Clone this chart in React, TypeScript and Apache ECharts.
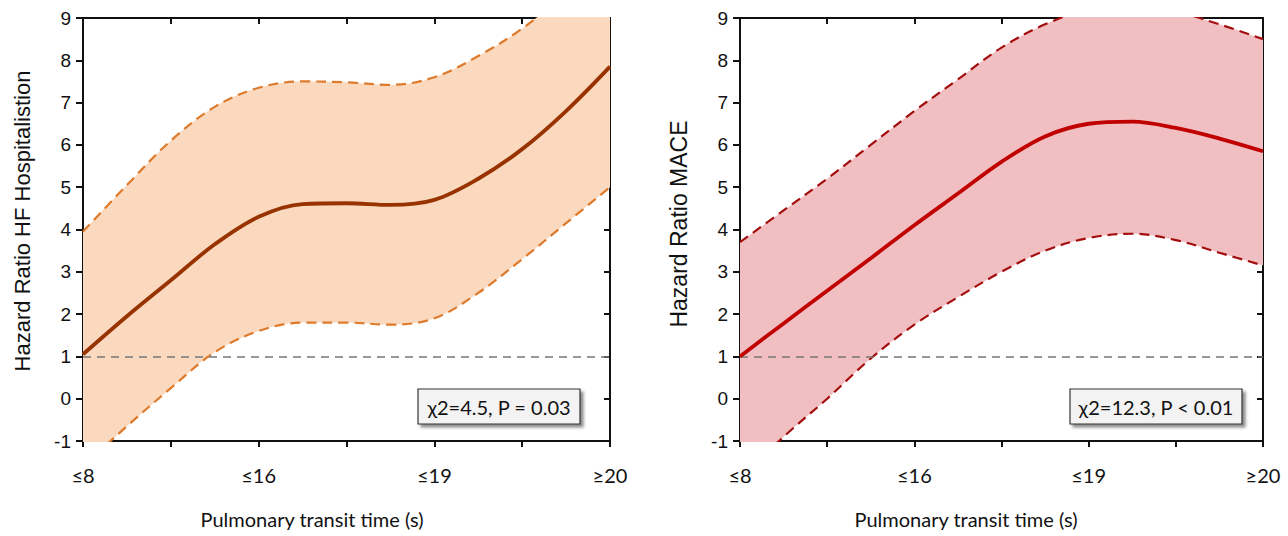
import React, { useEffect, useRef } from "react";
import * as echarts from "echarts";

// x positions (0 = ≤8, 2 = ≤16, 4 = ≤19, 6 = ≥20), sampled every half step
const xs = ["0", "0.5", "1", "1.5", "2", "2.5", "3", "3.5", "4", "4.5", "5", "5.5", "6"];
const xTickLabels = ["≤8", "≤16", "≤19", "≥20"];
const xTickPositions = ["0", "2", "4", "6"];

// Left panel: HF hospitalisation
const hfMean = [1.05, 1.95, 2.8, 3.65, 4.3, 4.6, 4.62, 4.58, 4.7, 5.2, 5.9, 6.8, 7.85];
const hfUpper = [3.95, 5.05, 6.1, 6.9, 7.35, 7.5, 7.48, 7.42, 7.6, 8.1, 8.75, 9.6, 10.6];
const hfLower = [-1.6, -0.65, 0.25, 1.1, 1.6, 1.8, 1.8, 1.75, 1.9, 2.5, 3.3, 4.15, 5.0];

// Right panel: MACE
const maceMean = [1.0, 1.78, 2.55, 3.32, 4.1, 4.85, 5.6, 6.2, 6.5, 6.55, 6.4, 6.15, 5.85];
const maceUpper = [3.7, 4.45, 5.2, 6.0, 6.8, 7.55, 8.3, 8.85, 9.2, 9.3, 9.15, 8.85, 8.5];
const maceLower = [-1.9, -0.9, 0.0, 0.95, 1.75, 2.4, 3.0, 3.5, 3.8, 3.9, 3.75, 3.45, 3.15];

const refValue = 1;
const leftTitle = "Hazard Ratio HF Hospitalistion";
const rightTitle = "Hazard Ratio MACE";
const xTitle = "Pulmonary transit time (s)";
const leftStat = "χ2=4.5, P = 0.03";
const rightStat = "χ2=12.3, P < 0.01";

const diff = (hi: number[], lo: number[]) => hi.map((v, i) => v - lo[i]);

const labelFont = "Lato, 'Open Sans', sans-serif";
const arial = "'Liberation Sans', Arial, sans-serif";

export default function App() {
  const ref = useRef<HTMLDivElement>(null);
  useEffect(() => {
    if (!ref.current) return;
    const chart = echarts.init(ref.current, null, { renderer: "svg" });

    const grids = [
      { left: 83, right: 678, top: 18, bottom: 95 },
      { left: 740, right: 25, top: 18, bottom: 95 },
    ];

    const axisLine = { show: true, onZero: false, lineStyle: { color: "#111", width: 2 } };
    const tickStyle = { color: "#111", width: 2 };

    const xAxes: any[] = [];
    const yAxes: any[] = [];
    grids.forEach((_, g) => {
      xAxes.push({
        gridIndex: g,
        type: "category",
        data: xs,
        boundaryGap: false,
        position: "bottom",
        axisLine,
        axisTick: { show: true, inside: false, length: 6, interval: 1, lineStyle: tickStyle },
        axisLabel: {
          interval: 3,
          margin: 24,
          fontFamily: labelFont,
          fontSize: 20,
          color: "#111",
          formatter: (v: string) => {
            const idx = xTickPositions.indexOf(v);
            return idx >= 0 ? xTickLabels[idx] : "";
          },
        },
        splitLine: { show: false },
      });
      xAxes.push({
        gridIndex: g,
        type: "category",
        data: xs,
        boundaryGap: false,
        position: "top",
        axisLine,
        axisTick: { show: true, inside: true, length: 6, interval: 1, lineStyle: tickStyle },
        axisLabel: { show: false },
        splitLine: { show: false },
      });
      yAxes.push({
        gridIndex: g,
        type: "value",
        min: -1,
        max: 9,
        interval: 1,
        position: "left",
        axisLine,
        axisTick: { show: true, inside: false, length: 7, lineStyle: tickStyle },
        axisLabel: { margin: 12, fontFamily: arial, fontSize: 19, color: "#111" },
        splitLine: { show: false },
      });
      yAxes.push({
        gridIndex: g,
        type: "value",
        min: -1,
        max: 9,
        interval: 1,
        position: "right",
        axisLine,
        axisTick: { show: true, inside: true, length: 6, lineStyle: tickStyle },
        axisLabel: { show: false },
        splitLine: { show: false },
      });
    });

    const panels = [
      { mean: hfMean, upper: hfUpper, lower: hfLower, fill: "#fad9bf", dash: "#dd7a2c", line: "#983300" },
      { mean: maceMean, upper: maceUpper, lower: maceLower, fill: "#f1bfc2", dash: "#a30d0d", line: "#c10000" },
    ];

    const series: any[] = [];
    panels.forEach((p, g) => {
      const xi = g * 2;
      const yi = g * 2;
      const stack = "band" + g;
      const common = { type: "line", xAxisIndex: xi, yAxisIndex: yi, smooth: 0.35, symbol: "none" };
      series.push({
        ...common,
        data: p.lower,
        stack,
        stackStrategy: "all",
        lineStyle: { opacity: 0 },
        silent: true,
      });
      series.push({
        ...common,
        data: diff(p.upper, p.lower),
        stack,
        stackStrategy: "all",
        lineStyle: { opacity: 0 },
        areaStyle: { color: p.fill, opacity: 1 },
        silent: true,
      });
      series.push({
        ...common,
        data: p.upper,
        lineStyle: { color: p.dash, width: 2.2, type: [10, 6] },
      });
      series.push({
        ...common,
        data: p.lower,
        lineStyle: { color: p.dash, width: 2.2, type: [10, 6] },
      });
      series.push({
        ...common,
        data: p.mean,
        lineStyle: { color: p.line, width: 3.8 },
        markLine: {
          silent: true,
          symbol: "none",
          label: { show: false },
          lineStyle: { color: "#777", width: 1.5, type: [8, 6] },
          data: [{ yAxis: refValue }],
        },
        z: 5,
      });
    });

    const statBox = (x: number, w: number, text: string) => ({
      type: "group",
      x,
      y: 389,
      children: [
        {
          type: "rect",
          shape: { x: 0, y: 0, width: w, height: 35 },
          style: {
            fill: "#f3f3f3",
            stroke: "#333",
            lineWidth: 1.2,
            shadowColor: "rgba(0,0,0,0.45)",
            shadowBlur: 3,
            shadowOffsetX: 3,
            shadowOffsetY: 3,
          },
        },
        {
          type: "text",
          style: {
            x: w / 2,
            y: 18,
            text,
            align: "center",
            verticalAlign: "middle",
            font: `20px ${labelFont}`,
            fill: "#111",
          },
        },
      ],
    });

    const vTitle = (x: number, y: number, text: string, size: number) => ({
      type: "text",
      x,
      y,
      rotation: Math.PI / 2,
      style: {
        text,
        align: "center",
        verticalAlign: "middle",
        font: `${size}px ${arial}`,
        fill: "#111",
      },
    });

    const hTitle = (x: number, text: string) => ({
      type: "text",
      x,
      y: 519,
      style: {
        text,
        align: "center",
        verticalAlign: "middle",
        font: `20px ${labelFont}`,
        fill: "#111",
      },
    });

    chart.setOption({
      animation: false,
      backgroundColor: "#fff",
      grid: grids,
      xAxis: xAxes,
      yAxis: yAxes,
      series,
      graphic: [
        statBox(418, 162, leftStat),
        statBox(1070, 172, rightStat),
        vTitle(22, 221, leftTitle, 22),
        vTitle(679, 224, rightTitle, 23),
        hTitle(312, xTitle),
        hTitle(966, xTitle),
      ],
    });
    return () => chart.dispose();
  }, []);

  return (
    <div
      ref={ref}
      style={{ position: "fixed", left: 0, top: 0, width: 1288, height: 536 }}
    />
  );
}
